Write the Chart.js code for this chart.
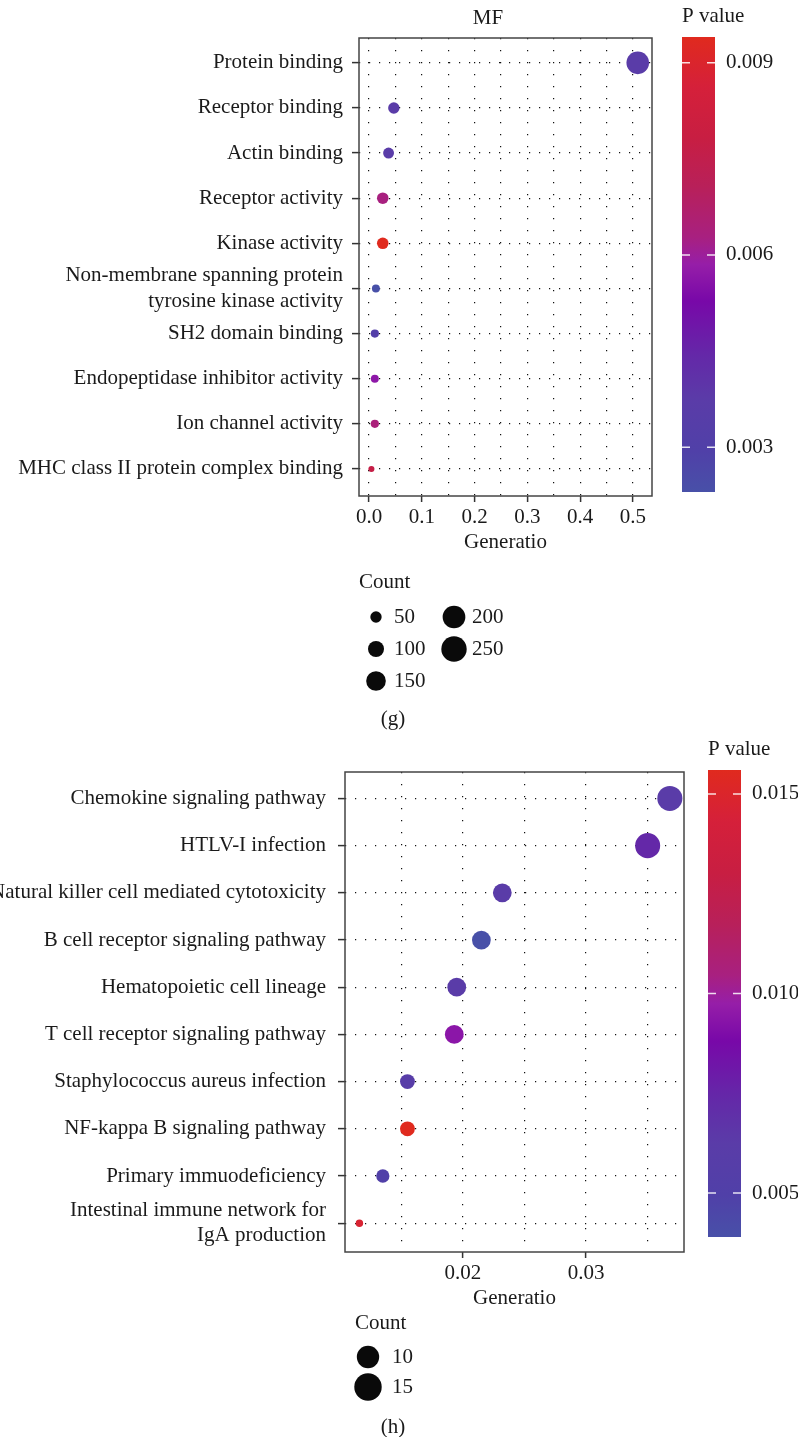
<!DOCTYPE html>
<html>
<head>
<meta charset="utf-8">
<script src="https://cdn.jsdelivr.net/npm/chart.js@4.4.0/dist/chart.umd.min.js"></script>
<style>
  body { margin: 0; background: #fff; width: 798px; height: 1437px; position: relative; overflow: hidden; }
  canvas { position: absolute; left: 0; }
</style>
</head>
<body>
<canvas id="graficoMF" width="798" height="730" style="top:0px"></canvas>
<canvas id="graficoKEGG" width="798" height="707" style="top:730px"></canvas>
<script>
// --- DATOS (g) MF ---
const mfTerms = [
    'Protein binding', 'Receptor binding', 'Actin binding', 'Receptor activity', 'Kinase activity',
    ['Non-membrane spanning protein', 'tyrosine kinase activity'],
    'SH2 domain binding', 'Endopeptidase inhibitor activity', 'Ion channel activity',
    'MHC class II protein complex binding'
];
const mfGeneratio = [0.509, 0.047, 0.037, 0.026, 0.026, 0.013, 0.011, 0.011, 0.011, 0.0045];
const mfCount = [243, 74, 69, 76, 76, 42, 44, 42, 44, 28];
const mfPvalue = [0.0037, 0.0037, 0.0037, 0.0063, 0.0094, 0.0023, 0.0032, 0.0057, 0.0064, 0.0077];
const mfXMajor = [0, 0.1, 0.2, 0.3, 0.4, 0.5];
const mfXMinor = [0.05, 0.15, 0.25, 0.35, 0.45];
const mfPTicks = [0.003, 0.006, 0.009];
const mfLegendCounts = [50, 100, 150, 200, 250];

// --- DATOS (h) KEGG ---
const keggTerms = [
    'Chemokine signaling pathway', 'HTLV-I infection', 'Natural killer cell mediated cytotoxicity',
    'B cell receptor signaling pathway', 'Hematopoietic cell lineage', 'T cell receptor signaling pathway',
    'Staphylococcus aureus infection', 'NF-kappa B signaling pathway', 'Primary immuodeficiency',
    ['Intestinal immune network for', 'IgA production']
];
const keggGeneratio = [0.0368, 0.0350, 0.0232, 0.0215, 0.0195, 0.0193, 0.0155, 0.0155, 0.0135, 0.0116];
const keggCount = [15, 15, 9, 9, 9, 9, 6, 6, 5, 2];
const keggPvalue = [0.0062, 0.0074, 0.0062, 0.0039, 0.0062, 0.0094, 0.0060, 0.0156, 0.0051, 0.0147];
const keggXMajor = [0.02, 0.03];
const keggXMinor = [0.015, 0.025, 0.035];
const keggPTicks = [0.005, 0.010, 0.015];
const keggLegendCounts = [10, 15];

// --- COLORES ---
const FONT = '"Liberation Serif", "Times New Roman", serif';
const TEXT = '#1a1a1a';
const colorStops = [
    [0.00, '#4850a8'], [0.09, '#5040a8'], [0.20, '#5a3ca8'], [0.30, '#6428a8'],
    [0.42, '#7808a8'], [0.50, '#961ea8'], [0.56, '#a82080'], [0.67, '#b8205a'],
    [0.78, '#c81e42'], [0.89, '#d5203a'], [1.00, '#e02a1e']
];

function hexToRgb(h) {
    return [1, 3, 5].map(i => parseInt(h.substr(i, 2), 16));
}

function colorAt(f) {
    f = Math.max(0, Math.min(1, f));
    for (let i = 1; i < colorStops.length; i++) {
        if (f <= colorStops[i][0]) {
            const [f0, c0] = colorStops[i - 1], [f1, c1] = colorStops[i];
            const t = (f - f0) / (f1 - f0);
            const a = hexToRgb(c0), b = hexToRgb(c1);
            return `rgb(${a.map((v, k) => Math.round(v + (b[k] - v) * t)).join(',')})`;
        }
    }
    return colorStops[colorStops.length - 1][1];
}

// --- PLUGIN: marco, titulo, barra de color, leyenda de tamaño ---
function extrasPlugin(o) {
    return {
        id: 'extras',
        afterDraw(chart) {
            const { ctx, chartArea: a } = chart;
            ctx.save();
            ctx.strokeStyle = '#444';
            ctx.lineWidth = 1.5;
            ctx.strokeRect(a.left, a.top, a.right - a.left, a.bottom - a.top);

            ctx.font = `21px ${FONT}`;
            ctx.fillStyle = TEXT;
            ctx.textBaseline = 'middle';
            if (o.title) {
                ctx.textAlign = 'center';
                ctx.fillText(o.title, o.titleX, o.titleY);
            }

            // barra de color
            const cb = o.colorbar;
            const grad = ctx.createLinearGradient(0, cb.bottom, 0, cb.top);
            colorStops.forEach(s => grad.addColorStop(s[0], s[1]));
            ctx.fillStyle = grad;
            ctx.fillRect(cb.x, cb.top, cb.w, cb.bottom - cb.top);
            ctx.fillStyle = TEXT;
            ctx.textAlign = 'left';
            ctx.fillText('P value', cb.x, cb.top - 21);
            o.pTicks.forEach(v => {
                const y = cb.bottom - (v - o.pmin) / (o.pmax - o.pmin) * (cb.bottom - cb.top);
                ctx.strokeStyle = 'rgba(255,255,255,0.85)';
                ctx.lineWidth = 1.5;
                ctx.beginPath();
                ctx.moveTo(cb.x, y); ctx.lineTo(cb.x + 8, y);
                ctx.moveTo(cb.x + cb.w - 8, y); ctx.lineTo(cb.x + cb.w, y);
                ctx.stroke();
                ctx.fillText(v.toFixed(3), cb.x + cb.w + 11, y);
            });

            // leyenda Count
            const lg = o.legend;
            ctx.fillText('Count', lg.x, lg.y);
            o.legendCounts.forEach((c, i) => {
                const col = Math.floor(i / lg.rows), row = i % lg.rows;
                const cx = lg.x + lg.keyX + col * lg.colStep;
                const cy = lg.y + lg.rowStart + row * lg.rowStep;
                ctx.fillStyle = '#0a0a0a';
                ctx.beginPath();
                ctx.arc(cx, cy, o.radius(c) + 1.2, 0, Math.PI * 2);
                ctx.fill();
                ctx.fillStyle = TEXT;
                ctx.fillText(String(c), cx + lg.labelGap, cy);
            });

            ctx.textAlign = 'center';
            ctx.fillText(o.panel, o.panelX, o.panelY);
            ctx.restore();
        }
    };
}

// --- GRAFICO DE BURBUJAS ---
function graficarBurbujas(canvasId, o) {
    const n = o.terms.length;
    o.pmin = Math.min(...o.pvalue);
    o.pmax = Math.max(...o.pvalue);
    const puntos = o.terms.map((t, i) => ({ x: o.ratio[i], y: n - i, r: o.radius(o.count[i]) }));
    const colores = o.pvalue.map(p => colorAt((p - o.pmin) / (o.pmax - o.pmin)));
    const font = { family: FONT, size: 21, lineHeight: 1.2 };

    return new Chart(document.getElementById(canvasId), {
        type: 'bubble',
        data: {
            datasets: [{
                data: puntos,
                backgroundColor: colores,
                borderWidth: 0,
                hoverBorderWidth: 0,
                clip: false
            }]
        },
        options: {
            responsive: false,
            animation: false,
            events: [],
            layout: { padding: o.padding },
            plugins: { legend: { display: false }, tooltip: { enabled: false } },
            scales: {
                x: {
                    type: 'linear',
                    min: o.xMin,
                    max: o.xMax,
                    afterBuildTicks: s => {
                        s.ticks = o.xMajor.concat(o.xMinor).sort((p, q) => p - q).map(v => ({ value: v }));
                    },
                    afterFit: s => { s.height = o.xHeight; },
                    ticks: {
                        callback: v => o.xMajor.includes(v) ? v.toFixed(o.xDigits) : '',
                        font: font, color: TEXT, padding: 3, autoSkip: false, maxRotation: 0
                    },
                    grid: {
                        color: '#111', lineWidth: 1.2, tickLength: 6, tickWidth: 1.5,
                        tickColor: c => (c.tick && o.xMajor.includes(c.tick.value)) ? '#333' : 'rgba(0,0,0,0)'
                    },
                    border: { display: false, dash: [1.2, 10.8] },
                    title: { display: true, text: 'Generatio', font: font, color: TEXT, padding: 0 }
                },
                y: {
                    type: 'linear',
                    min: o.yMin,
                    max: n + o.yTop,
                    afterBuildTicks: s => {
                        s.ticks = o.terms.map((t, i) => ({ value: i + 1 }));
                    },
                    afterFit: s => { s.width = o.yWidth; },
                    ticks: {
                        callback: v => o.terms[n - v],
                        font: font, color: TEXT, padding: o.yPad, autoSkip: false
                    },
                    grid: { color: '#111', lineWidth: 1.2, tickLength: 7, tickWidth: 1.5, tickColor: '#333' },
                    border: { display: false, dash: [1.2, 8.8] }
                }
            }
        },
        plugins: [extrasPlugin(o)]
    });
}

graficarBurbujas('graficoMF', {
    terms: mfTerms, ratio: mfGeneratio, count: mfCount, pvalue: mfPvalue,
    radius: c => -1.23 + 0.805 * Math.sqrt(c),
    xMajor: mfXMajor, xMinor: mfXMinor, xDigits: 1, xMin: -0.019, xMax: 0.536,
    yMin: 0.40, yTop: 0.55, yWidth: 359, yPad: 9, xHeight: 59,
    padding: { top: 38, right: 146, bottom: 730 - 496 - 59, left: 0 },
    title: 'MF', titleX: 488, titleY: 18,
    pTicks: mfPTicks,
    colorbar: { x: 682, w: 33, top: 37, bottom: 492 },
    legendCounts: mfLegendCounts,
    legend: { x: 359, y: 582, keyX: 17, rowStart: 35, rowStep: 32, rows: 3, colStep: 78, labelGap: 18 },
    panel: '(g)', panelX: 393, panelY: 719
});

graficarBurbujas('graficoKEGG', {
    terms: keggTerms, ratio: keggGeneratio, count: keggCount, pvalue: keggPvalue,
    radius: c => -1.35 + 3.58 * Math.sqrt(c),
    xMajor: keggXMajor, xMinor: keggXMinor, xDigits: 2, xMin: 0.01043, xMax: 0.03795,
    yMin: 0.39, yTop: 0.56, yWidth: 345, yPad: 12, xHeight: 59,
    padding: { top: 42, right: 114, bottom: 707 - 522 - 59, left: 0 },
    title: null,
    pTicks: keggPTicks,
    colorbar: { x: 708, w: 33, top: 40, bottom: 507 },
    legendCounts: keggLegendCounts,
    legend: { x: 355, y: 593, keyX: 13, rowStart: 34, rowStep: 30, rows: 3, colStep: 78, labelGap: 24 },
    panel: '(h)', panelX: 393, panelY: 697
});
</script>
</body>
</html>
